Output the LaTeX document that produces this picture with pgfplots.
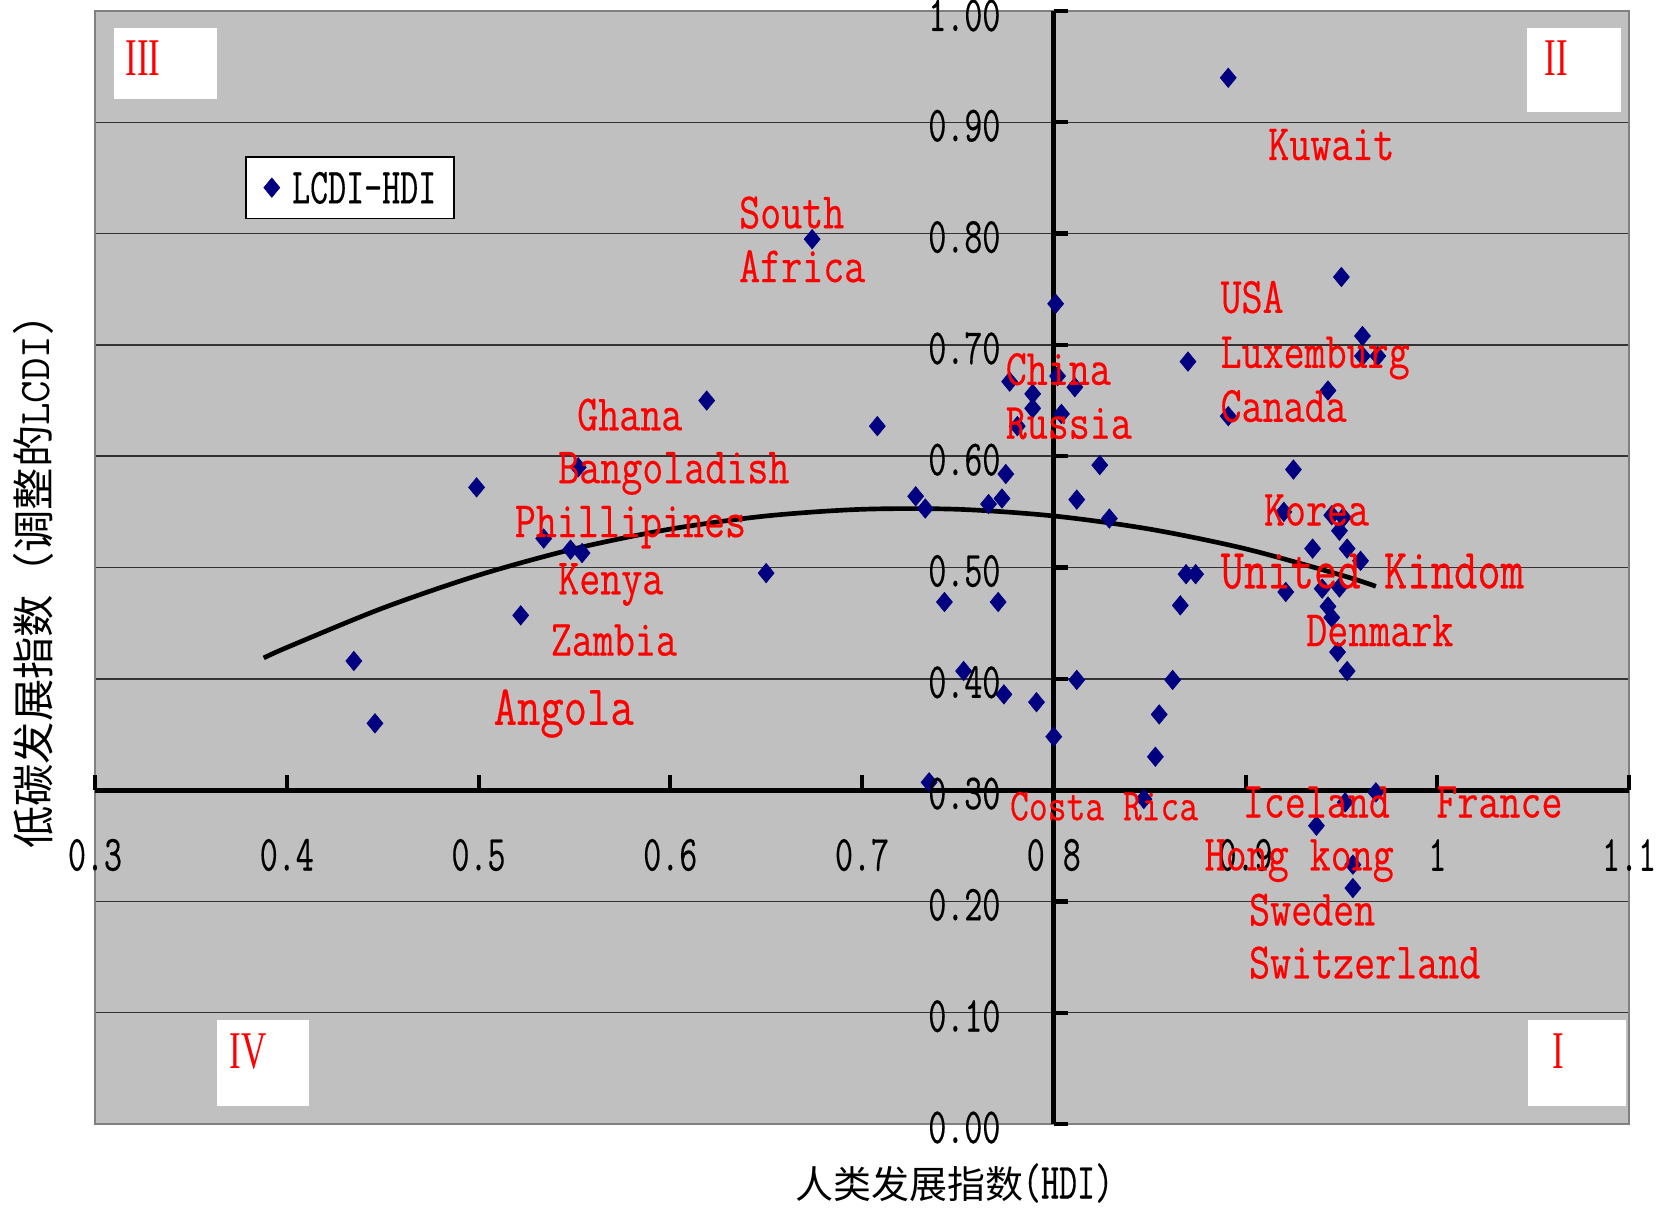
\documentclass[border=0pt]{standalone}
\usepackage{fontspec}
\usepackage{pgfplots}
\usepackage{pgfplotstable}
\pgfplotsset{compat=1.18}
\newfontfamily\cjk{Noto Sans CJK SC}
\newfontfamily\tickf[FakeStretch=0.69,FakeBold=0.3]{Latin Modern Mono}
\newfontfamily\lab[FakeStretch=0.8,FakeBold=0.35]{Latin Modern Mono}
\newfontfamily\mono{Latin Modern Mono}
\newfontfamily\romf[FakeStretch=0.66]{Liberation Serif}
\definecolor{navy}{HTML}{000080}
\definecolor{bg}{HTML}{C0C0C0}
\definecolor{framec}{HTML}{808080}

\pgfplotstableread{
x y
0.435 0.416
0.446 0.360
0.499 0.572
0.522 0.457
0.534 0.526
0.548 0.516
0.554 0.513
0.552 0.590
0.619 0.650
0.650 0.495
0.674 0.795
0.708 0.627
0.728 0.564
0.733 0.553
0.735 0.307
0.743 0.469
0.753 0.407
0.766 0.557
0.773 0.562
0.771 0.469
0.774 0.386
0.775 0.584
0.777 0.667
0.789 0.656
0.789 0.643
0.781 0.627
0.791 0.379
0.800 0.348
0.801 0.737
0.802 0.672
0.804 0.638
0.811 0.662
0.812 0.561
0.812 0.399
0.824 0.592
0.829 0.544
0.847 0.292
0.853 0.330
0.855 0.368
0.862 0.399
0.866 0.466
0.869 0.494
0.874 0.494
0.870 0.685
0.891 0.940
0.891 0.636
0.950 0.761
0.961 0.708
0.961 0.690
0.969 0.690
0.943 0.659
0.925 0.588
0.920 0.550
0.945 0.547
0.951 0.545
0.949 0.533
0.935 0.517
0.953 0.517
0.960 0.506
0.921 0.478
0.940 0.481
0.949 0.482
0.943 0.465
0.945 0.455
0.948 0.424
0.953 0.407
0.968 0.298
0.952 0.289
0.937 0.268
0.956 0.233
0.956 0.212
}\pts

\pgfplotstableread{
x y
0.388 0.4187
0.400 0.4281
0.450 0.4635
0.500 0.4931
0.550 0.5168
0.600 0.5345
0.650 0.5463
0.700 0.5523
0.750 0.5523
0.800 0.5463
0.850 0.5345
0.900 0.5168
0.950 0.4931
0.968 0.4831
}\trend

\begin{document}
\begin{tikzpicture}
\begin{axis}[
  scale only axis, width=460.2pt, height=333.9pt,
  xmin=0.3, xmax=1.1, ymin=0, ymax=1,
  axis background/.style={fill=bg},
  axis line style={draw=framec, line width=0.6pt},
  xtick=\empty,
  ytick={0.1,0.2,0.3,0.4,0.5,0.6,0.7,0.8,0.9},
  yticklabels={},
  major tick length=0pt,
  tick style={draw=none},
  ymajorgrids,
  grid style={black!80, line width=0.45pt},
  clip=false,
  legend style={at={(0.0978,0.8697)}, anchor=north west, draw=black,
    line width=0.5pt, fill=white, inner xsep=5.4pt, inner ysep=4.5pt,
    nodes={inner sep=0pt, text depth=0pt},
    font=\tickf\fontsize{15.2pt}{16pt}\selectfont,
    /tikz/every odd column/.append style={column sep=3.7pt}},
]
% axes crossing at (0.8, 0.3)
\draw[line width=1.5pt] (axis cs:0.3,0.3) -- (axis cs:1.1,0.3);
\draw[line width=1.5pt] (axis cs:0.8,0) -- (axis cs:0.8,1);
\pgfplotsinvokeforeach{0.3,0.4,0.5,0.6,0.7,0.8,0.9,1.0,1.1}{
  \draw[line width=1.2pt] (axis cs:#1,0.3) -- ++(0pt,4.6pt);
}
\pgfplotsinvokeforeach{0,0.1,0.2,0.3,0.4,0.5,0.6,0.7,0.8,0.9,1.0}{
  \draw[line width=1.3pt] (axis cs:0.8,#1) -- ++(4.2pt,0pt);
}
\addplot[only marks, mark=diamond*, color=navy, mark size=2.9pt,
  mark options={solid, line width=0.2pt, xscale=1.1},
  legend image code/.code={\draw[##1] plot coordinates {(0pt,0pt)};}]
  table[x=x,y=y] {\pts};
\addlegendentry{LCDI-HDI}
\addplot[forget plot, black, line width=1.4pt, smooth, no marks] table[x=x,y=y] {\trend};
\end{axis}

\begin{scope}[shift={(-28.5pt,337.2pt)}, x=0.3pt, y=-0.3pt]
% quadrant boxes
\fill[white] (114,28) rectangle (217,99);
\fill[white] (1527,28) rectangle (1621,112);
\fill[white] (217,1020) rectangle (309,1106);
\fill[white] (1528,1020) rectangle (1626,1106);
\begin{scope}[every node/.style={inner sep=0pt, anchor=base west, text=red,
   font=\romf\fontsize{15.9pt}{17pt}\selectfont}]
\node at (125,76) {III};
\node at (1544,76) {II};
\node at (229,1068) {IV};
\node at (1552,1068) {I};
\end{scope}
% y tick labels
\begin{scope}[every node/.style={inner sep=0pt, anchor=east,
   font=\tickf\fontsize{15.2pt}{16pt}\selectfont}]
\node at (1001,1127.5) {0.00};
\node at (1001,1016.2) {0.10};
\node at (1001,904.9) {0.20};
\node at (1001,793.6) {0.30};
\node at (1001,682.3) {0.40};
\node at (1001,571.0) {0.50};
\node at (1001,459.7) {0.60};
\node at (1001,348.4) {0.70};
\node at (1001,237.1) {0.80};
\node at (1001,125.8) {0.90};
\node at (1001,15.5) {1.00};
\end{scope}
% x tick labels
\begin{scope}[every node/.style={inner sep=0pt, anchor=center,
   font=\tickf\fontsize{15.2pt}{16pt}\selectfont}]
\node at (95,855) {0.3};
\node at (286.75,855) {0.4};
\node at (478.5,855) {0.5};
\node at (670.25,855) {0.6};
\node at (862,855) {0.7};
\node at (1053.75,855) {0.8};
\node at (1245.5,855) {0.9};
\node at (1437.25,855) {1};
\node at (1629,855) {1.1};
\end{scope}
% country labels
\begin{scope}[every node/.style={inner sep=0pt, anchor=base west, text=red,
   font=\lab\fontsize{15.3pt}{16pt}\selectfont}]
\node at (1267.6,160.0) {Kuwait};
\node at (738.5,228.2) {South};
\node at (738.5,282.1) {Africa};
\node at (1219.9,312.8) {USA};
\node at (1219.9,367.8) {Luxemburg};
\node at (1219.9,421.8) {Canada};
\node at (1005.1,384.8) {China};
\node at (1005.1,438.7) {Russia};
\node at (576.6,430.3) {Ghana};
\node at (557.6,483.2) {Bangoladish};
\node at (514.2,537.1) {Phillipines};
\node at (557.6,594.3) {Kenya};
\node at (550.2,655.6) {Zambia};
\node at (1263.3,525.5) {Korea};
\node at (1305.6,646.1) {Denmark};
\node at (1242.1,817.5) {Iceland};
\node at (1435.7,817.5) {France};
\node at (1204.0,870.4) {Hong kong};
\node at (1248.4,925.4) {Sweden};
\node at (1248.4,978.3) {Switzerland};
\node[font=\lab\fontsize{17pt}{18pt}\selectfont] at (493.0,724.8) {Angola};
\node[font=\lab\fontsize{17pt}{18pt}\selectfont] at (1219.9,588.3) {United Kindom};
\node[font=\lab\fontsize{13.7pt}{15pt}\selectfont] at (1009.4,820.2) {Costa Rica};
\end{scope}
% axis titles
\node[rotate=90, inner sep=0pt] at (33,571)
  {\cjk\fontsize{12.7pt}{14pt}\selectfont 低碳发展指数（调整的{\mono\fontsize{13.1pt}{14pt}\selectfont LCDI}）};
\node[inner sep=0pt] at (954,1183)
  {\cjk\fontsize{11.4pt}{13pt}\selectfont 人类发展指数{\tickf\fontsize{15.2pt}{16pt}\selectfont (HDI)}};
\end{scope}
\pgfresetboundingbox
\useasboundingbox (-28.5pt,-24.9pt) rectangle (469.2pt,337.2pt);
\end{tikzpicture}
\end{document}
